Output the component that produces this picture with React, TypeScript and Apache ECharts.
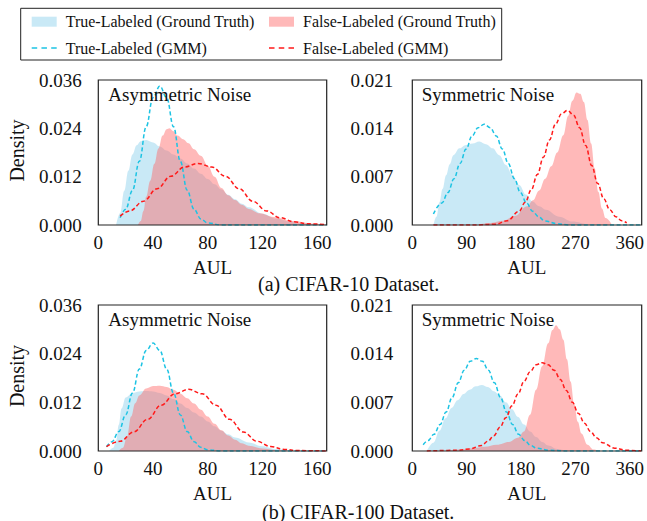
import React, { useEffect, useRef } from 'react';
import * as echarts from 'echarts';

const FONT = 'Liberation Serif';
const TEXT = '#111111';

const NAME_TRUE_GT = 'True-Labeled (Ground Truth)';
const NAME_FALSE_GT = 'False-Labeled (Ground Truth)';
const NAME_TRUE_GMM = 'True-Labeled (GMM)';
const NAME_FALSE_GMM = 'False-Labeled (GMM)';

const panelTitles = ['Asymmetric Noise', 'Symmetric Noise', 'Asymmetric Noise', 'Symmetric Noise'];
const captions = ['(a) CIFAR-10 Dataset.', '(b) CIFAR-100 Dataset.'];
const xName = 'AUL';
const yName = 'Density';

// axis scales per panel
const xMax = [167, 379, 167, 379];
const xStep = [40, 90, 40, 90];
const yMax = [0.036, 0.021, 0.036, 0.021];
const yStep = [0.012, 0.007, 0.012, 0.007];

// ---------- (a) CIFAR-10, Asymmetric ----------
const a1TrueGtX = [13, 16, 19, 22, 25, 28, 31, 35, 40, 45, 50, 55, 60, 65, 70, 75, 80, 85, 90, 95, 100, 105, 110, 120, 130, 140, 150, 160];
const a1TrueGtY = [0, 0.003, 0.0085, 0.0135, 0.0175, 0.0198, 0.0208, 0.0211, 0.0205, 0.0195, 0.0185, 0.0175, 0.0165, 0.0153, 0.014, 0.0127, 0.0114, 0.0101, 0.0088, 0.0075, 0.0064, 0.0053, 0.0044, 0.0028, 0.0016, 0.0009, 0.0004, 0.0001];
const a1FalseGtX = [29, 31, 33, 35, 38, 41, 44, 47, 50, 52, 55, 58, 62, 66, 70, 75, 80, 85, 90, 95, 100, 105, 110, 118, 128, 142, 157, 167];
const a1FalseGtY = [0, 0.001, 0.0035, 0.007, 0.011, 0.0152, 0.019, 0.0222, 0.0238, 0.024, 0.0233, 0.0222, 0.0213, 0.0203, 0.0188, 0.0172, 0.0148, 0.012, 0.0092, 0.0074, 0.0062, 0.005, 0.004, 0.0029, 0.002, 0.001, 0.0004, 0.0001];
const a1TrueGmmX = [16, 20, 25, 30, 35, 40, 45, 50, 55, 60, 65, 70, 75, 80, 90, 100, 120, 140, 167];
const a1TrueGmmY = [0.0018, 0.0039, 0.0086, 0.0158, 0.0244, 0.0316, 0.0345, 0.0316, 0.0244, 0.0158, 0.0086, 0.0039, 0.0015, 0.0005, 0, 0, 0, 0, 0];
const a1FalseGmmX = [16, 23, 33, 43, 53, 63, 73, 83, 93, 103, 113, 123, 133, 143, 153, 167];
const a1FalseGmmY = [0.0022, 0.0035, 0.0059, 0.009, 0.0121, 0.0144, 0.0153, 0.0144, 0.0121, 0.009, 0.0059, 0.0035, 0.0018, 0.0008, 0.0003, 0.0001];

// ---------- (a) CIFAR-10, Symmetric ----------
const a2TrueGtX = [35, 40, 45, 50, 56, 62, 68, 78, 89, 100, 111, 122, 133, 144, 155, 166, 177, 188, 199, 210, 221, 243, 265, 287];
const a2TrueGtY = [0, 0.0012, 0.0033, 0.0052, 0.0072, 0.0088, 0.0101, 0.0111, 0.0116, 0.0118, 0.0121, 0.0117, 0.0111, 0.0101, 0.0087, 0.0072, 0.0058, 0.0044, 0.0034, 0.0027, 0.0022, 0.0012, 0.0005, 0.0001];
const a2FalseGtX = [110, 130, 150, 170, 190, 200, 210, 220, 230, 240, 250, 258, 265, 272, 278, 284, 290, 296, 302, 308, 314, 320, 330];
const a2FalseGtY = [0.0001, 0.0003, 0.0006, 0.0013, 0.0027, 0.0036, 0.005, 0.0067, 0.0085, 0.0105, 0.013, 0.0158, 0.018, 0.0192, 0.019, 0.0178, 0.0152, 0.0118, 0.0082, 0.0048, 0.0024, 0.001, 0.0001];
const a2TrueGmmX = [35, 49, 59, 69, 79, 89, 99, 109, 119, 129, 139, 149, 159, 169, 179, 189, 199, 209, 219, 239, 259, 300, 379];
const a2TrueGmmY = [0.0016, 0.0032, 0.0047, 0.0067, 0.0089, 0.011, 0.0129, 0.0141, 0.0146, 0.0141, 0.0129, 0.011, 0.0089, 0.0067, 0.0047, 0.0032, 0.002, 0.0012, 0.0006, 0.0002, 0, 0, 0];
const a2FalseGmmX = [35, 100, 137, 157, 177, 187, 197, 207, 217, 227, 237, 247, 257, 267, 277, 287, 297, 307, 317, 327, 337, 347, 355];
const a2FalseGmmY = [0, 0, 0.0001, 0.0006, 0.002, 0.0033, 0.0051, 0.0073, 0.0098, 0.0123, 0.0146, 0.0161, 0.0166, 0.0159, 0.0141, 0.0115, 0.0086, 0.006, 0.0038, 0.0022, 0.0012, 0.0006, 0.0003];

// ---------- (b) CIFAR-100, Asymmetric ----------
const b1TrueGtX = [8, 11, 13, 15, 17, 20, 25, 30, 35, 40, 45, 50, 55, 60, 65, 70, 75, 80, 85, 90, 95, 100, 110, 120, 130, 140];
const b1TrueGtY = [0, 0.0008, 0.0025, 0.0065, 0.0105, 0.0132, 0.0143, 0.0147, 0.0148, 0.0147, 0.0143, 0.0137, 0.0128, 0.0117, 0.0106, 0.0095, 0.0085, 0.0073, 0.0061, 0.005, 0.0041, 0.0033, 0.0021, 0.0012, 0.0005, 0.0001];
const b1FalseGtX = [15, 18, 21, 24, 27, 30, 35, 40, 45, 50, 55, 60, 65, 70, 75, 80, 85, 90, 95, 100, 105, 110, 120, 130, 140];
const b1FalseGtY = [0, 0.0008, 0.0035, 0.0085, 0.0118, 0.0137, 0.0154, 0.016, 0.0161, 0.0158, 0.0151, 0.0141, 0.013, 0.0117, 0.0102, 0.0085, 0.0067, 0.0051, 0.0038, 0.0028, 0.0019, 0.0013, 0.0006, 0.0002, 0];
const b1TrueGmmX = [6, 10, 15, 20, 25, 30, 35, 40, 45, 50, 55, 60, 65, 70, 75, 80, 90, 120, 167];
const b1TrueGmmY = [0.001, 0.0023, 0.0048, 0.0089, 0.0143, 0.0202, 0.0248, 0.0266, 0.0248, 0.0202, 0.0143, 0.0089, 0.0048, 0.0023, 0.0009, 0.0003, 0, 0, 0];
const b1FalseGmmX = [6, 16, 26, 36, 46, 56, 66, 76, 86, 96, 106, 116, 126, 136, 146, 167];
const b1FalseGmmY = [0.0011, 0.0024, 0.0047, 0.0078, 0.0113, 0.0141, 0.0152, 0.0141, 0.0113, 0.0078, 0.0047, 0.0024, 0.0011, 0.0004, 0.0001, 0];

// ---------- (b) CIFAR-100, Symmetric ----------
const b2TrueGtX = [24, 35, 45, 55, 65, 75, 85, 95, 105, 115, 125, 135, 145, 155, 165, 175, 185, 195, 205, 215, 225, 240, 255];
const b2TrueGtY = [0, 0.0012, 0.0029, 0.0047, 0.0062, 0.0073, 0.0082, 0.0088, 0.0093, 0.0095, 0.0092, 0.0086, 0.008, 0.007, 0.006, 0.0049, 0.0038, 0.0028, 0.002, 0.0013, 0.0008, 0.0003, 0];
const b2FalseGtX = [55, 80, 100, 120, 140, 160, 175, 185, 195, 205, 215, 225, 232, 238, 244, 250, 256, 262, 268, 274, 280, 290, 300, 310];
const b2FalseGtY = [0, 0.0002, 0.0004, 0.0006, 0.0009, 0.0013, 0.0019, 0.0028, 0.0052, 0.0088, 0.0122, 0.0155, 0.0174, 0.0181, 0.0175, 0.016, 0.0132, 0.01, 0.0068, 0.0042, 0.0025, 0.0009, 0.0002, 0];
const b2TrueGmmX = [18, 26, 36, 46, 56, 66, 76, 86, 96, 106, 116, 126, 136, 146, 156, 166, 176, 186, 196, 206, 226, 260, 379];
const b2TrueGmmY = [0.0009, 0.0015, 0.0024, 0.0038, 0.0056, 0.0077, 0.0098, 0.0116, 0.0129, 0.0133, 0.0129, 0.0116, 0.0098, 0.0077, 0.0056, 0.0038, 0.0024, 0.0015, 0.0008, 0.0004, 0.0001, 0, 0];
const b2FalseGmmX = [24, 75, 95, 115, 125, 135, 145, 155, 165, 175, 185, 195, 205, 215, 225, 235, 245, 255, 265, 275, 285, 295, 305, 315, 335, 355, 379];
const b2FalseGmmY = [0, 0.0001, 0.0003, 0.0008, 0.0014, 0.0022, 0.0034, 0.0048, 0.0065, 0.0082, 0.01, 0.0114, 0.0124, 0.0127, 0.0124, 0.0116, 0.0103, 0.0087, 0.007, 0.0054, 0.004, 0.0028, 0.0019, 0.0012, 0.0004, 0.0001, 0];

const BLUE_FILL = 'rgba(135,206,235,0.45)';
const RED_FILL = 'rgba(255,99,99,0.45)';
const CYAN_LINE = '#1cc3e3';
const RED_LINE = '#ff1a1a';
const DASH_ICON = 'path://M0,0h5.5v1.6h-5.5z M9.75,0h5.5v1.6h-5.5z M19.5,0h5.5v1.6h-5.5z';

// layout
const GRIDS = [
  { left: 98.3, top: 80, width: 228.4, height: 145 },
  { left: 412.3, top: 80, width: 229.4, height: 145 },
  { left: 98.3, top: 305, width: 228.4, height: 146 },
  { left: 412.3, top: 305, width: 229.4, height: 146 },
];
const Y_LABEL_MARGIN = [16.5, 19, 16.5, 19];

const zip = (xs: number[], ys: number[]) => xs.map((x, i) => [x, ys[i]]);

const panels = [
  [a1TrueGtX, a1TrueGtY, a1FalseGtX, a1FalseGtY, a1TrueGmmX, a1TrueGmmY, a1FalseGmmX, a1FalseGmmY],
  [a2TrueGtX, a2TrueGtY, a2FalseGtX, a2FalseGtY, a2TrueGmmX, a2TrueGmmY, a2FalseGmmX, a2FalseGmmY],
  [b1TrueGtX, b1TrueGtY, b1FalseGtX, b1FalseGtY, b1TrueGmmX, b1TrueGmmY, b1FalseGmmX, b1FalseGmmY],
  [b2TrueGtX, b2TrueGtY, b2FalseGtX, b2FalseGtY, b2TrueGmmX, b2TrueGmmY, b2FalseGmmX, b2FalseGmmY],
];

function buildOption() {
  const series: any[] = [];
  panels.forEach((p, i) => {
    const [tgx, tgy, fgx, fgy, tmx, tmy, fmx, fmy] = p;
    const common = {
      type: 'line',
      xAxisIndex: i,
      yAxisIndex: i,
      symbol: 'none',
      showSymbol: false,
      smooth: 0.4,
      smoothMonotone: 'x',
      silent: true,
    };
    series.push({
      ...common,
      name: NAME_TRUE_GT,
      data: zip(tgx, tgy),
      color: BLUE_FILL,
      itemStyle: { color: BLUE_FILL },
      lineStyle: { width: 0, color: BLUE_FILL },
      areaStyle: { color: BLUE_FILL, opacity: 1 },
      z: 2,
    });
    series.push({
      ...common,
      name: NAME_FALSE_GT,
      data: zip(fgx, fgy),
      color: RED_FILL,
      itemStyle: { color: RED_FILL },
      lineStyle: { width: 0, color: RED_FILL },
      areaStyle: { color: RED_FILL, opacity: 1 },
      z: 3,
    });
    series.push({
      ...common,
      name: NAME_TRUE_GMM,
      data: zip(tmx, tmy),
      color: CYAN_LINE,
      itemStyle: { color: CYAN_LINE },
      lineStyle: { width: 1.5, color: CYAN_LINE, type: [4, 2.5] },
      z: 4,
    });
    series.push({
      ...common,
      name: NAME_FALSE_GMM,
      data: zip(fmx, fmy),
      color: RED_LINE,
      itemStyle: { color: RED_LINE },
      lineStyle: { width: 1.5, color: RED_LINE, type: [4, 2.5] },
      z: 5,
    });
  });

  const labelStyle = { fontFamily: FONT, fontSize: 19, color: TEXT };

  const xAxis = GRIDS.map((_, i) => ({
    type: 'value',
    gridIndex: i,
    min: 0,
    max: xMax[i],
    interval: xStep[i],
    axisLine: { show: false },
    axisTick: { show: false },
    splitLine: { show: false },
    axisLabel: {
      ...labelStyle,
      margin: 8,
      formatter: (v: number) => (Math.round(v) % xStep[i] === 0 ? String(Math.round(v)) : ''),
    },
    name: xName,
    nameLocation: 'middle',
    nameGap: 33,
    nameTextStyle: { fontFamily: FONT, fontSize: 19, color: TEXT },
  }));

  const yAxis = GRIDS.map((_, i) => ({
    type: 'value',
    gridIndex: i,
    min: 0,
    max: yMax[i],
    interval: yStep[i],
    axisLine: { show: false },
    axisTick: { show: false },
    splitLine: { show: false },
    axisLabel: {
      ...labelStyle,
      margin: Y_LABEL_MARGIN[i],
      formatter: (v: number) => v.toFixed(3),
    },
  }));

  const graphic: any[] = [];
  GRIDS.forEach((g) => {
    graphic.push({
      type: 'rect',
      z: 100,
      silent: true,
      shape: { x: g.left, y: g.top, width: g.width, height: g.height },
      style: { fill: 'none', stroke: '#222', lineWidth: 1.2 },
    });
  });
  GRIDS.forEach((g, i) => {
    graphic.push({
      type: 'text',
      z: 101,
      x: g.left + (i % 2 === 0 ? 10 : 9.4),
      y: g.top + (i < 2 ? 14 : 14.5),
      style: {
        text: panelTitles[i],
        fontFamily: FONT,
        fontSize: 19,
        fill: TEXT,
        align: 'left',
        verticalAlign: 'middle',
      },
    });
  });
  [GRIDS[0], GRIDS[2]].forEach((g) => {
    graphic.push({
      type: 'text',
      z: 101,
      x: 16.7,
      y: g.top + g.height / 2 - 2,
      rotation: Math.PI / 2,
      style: {
        text: yName,
        fontFamily: FONT,
        fontSize: 20,
        fill: TEXT,
        align: 'center',
        verticalAlign: 'middle',
      },
    });
  });
  graphic.push({
    type: 'text',
    x: 258,
    y: 284,
    style: { text: captions[0], fontFamily: FONT, fontSize: 20, fill: TEXT, align: 'left', verticalAlign: 'middle' },
  });
  graphic.push({
    type: 'text',
    x: 262,
    y: 511.5,
    style: { text: captions[1], fontFamily: FONT, fontSize: 20, fill: TEXT, align: 'left', verticalAlign: 'middle' },
  });
  graphic.push({
    type: 'rect',
    z: 100,
    silent: true,
    shape: { x: 20.7, y: 8.3, width: 481, height: 51.7 },
    style: { fill: 'none', stroke: '#222', lineWidth: 1 },
  });

  const legendBase = {
    orient: 'vertical',
    top: 13.7,
    itemWidth: 25,
    itemHeight: 10,
    itemGap: 10.3,
    padding: 0,
    selectedMode: false,
    textStyle: { fontFamily: FONT, fontSize: 16, color: TEXT, padding: [0, 0, 0, 4] },
  };

  return {
    animation: false,
    backgroundColor: '#ffffff',
    textStyle: { fontFamily: FONT },
    grid: GRIDS.map((g) => ({ ...g, containLabel: false })),
    xAxis,
    yAxis,
    series,
    graphic,
    legend: [
      {
        ...legendBase,
        left: 31.7,
        data: [
          { name: NAME_TRUE_GT, icon: 'rect', itemStyle: { color: BLUE_FILL, borderWidth: 0 } },
          { name: NAME_TRUE_GMM, icon: DASH_ICON, itemStyle: { color: CYAN_LINE, borderWidth: 0 } },
        ],
      },
      {
        ...legendBase,
        left: 269,
        data: [
          { name: NAME_FALSE_GT, icon: 'rect', itemStyle: { color: RED_FILL, borderWidth: 0 } },
          { name: NAME_FALSE_GMM, icon: DASH_ICON, itemStyle: { color: RED_LINE, borderWidth: 0 } },
        ],
      },
    ],
  };
}

export default function App() {
  const ref = useRef<HTMLDivElement>(null);
  useEffect(() => {
    if (!ref.current) return;
    const chart = echarts.init(ref.current, undefined, { renderer: 'svg' });
    chart.setOption(buildOption() as any);
    return () => chart.dispose();
  }, []);
  return (
    <div
      ref={ref}
      style={{ position: 'fixed', left: 0, top: 0, width: 647, height: 521, background: '#fff' }}
    />
  );
}
